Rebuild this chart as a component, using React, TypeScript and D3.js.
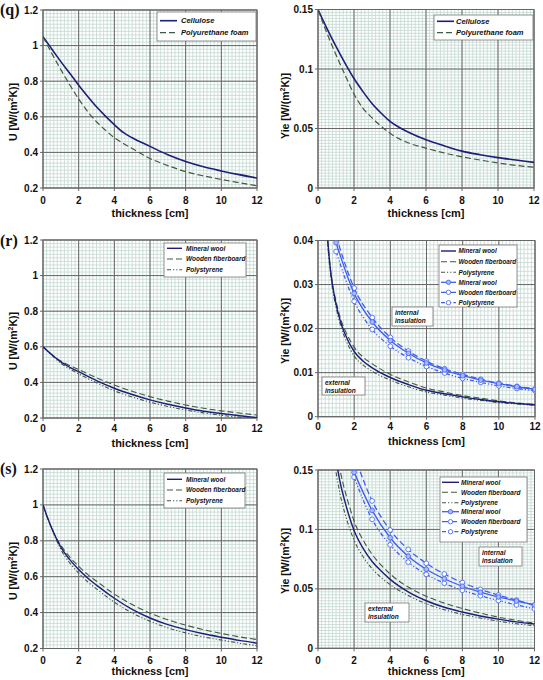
import React from "react";
import * as d3 from "d3";

// ---------- shared ----------
const xTicks = [0, 2, 4, 6, 8, 10, 12];

// ---------- (q) ----------
const qX = [0, 0.5, 1, 1.5, 2, 2.5, 3, 3.5, 4, 4.5, 5, 6, 7, 8, 9, 10, 11, 12];
const qCelluloseU = [1.05, 0.98, 0.91, 0.845, 0.777, 0.715, 0.656, 0.604, 0.556, 0.512, 0.482, 0.434, 0.387, 0.349, 0.319, 0.296, 0.275, 0.256];
const qPolyurethaneU = [1.05, 0.955, 0.865, 0.78, 0.7, 0.63, 0.572, 0.525, 0.483, 0.45, 0.422, 0.366, 0.326, 0.292, 0.268, 0.248, 0.23, 0.212];
const qCelluloseY = [0.15, 0.134, 0.119, 0.105, 0.092, 0.081, 0.071, 0.063, 0.056, 0.051, 0.047, 0.0405, 0.0355, 0.031, 0.028, 0.0255, 0.0235, 0.0215];
const qPolyurethaneY = [0.15, 0.13, 0.112, 0.095, 0.079, 0.067, 0.059, 0.052, 0.046, 0.0415, 0.038, 0.0335, 0.0295, 0.0262, 0.0235, 0.021, 0.019, 0.0175];

// ---------- (r) ----------
const rX = [0, 0.5, 1, 1.5, 2, 3, 4, 5, 6, 7, 8, 9, 10, 11, 12];
const rMineralU = [0.6, 0.555, 0.515, 0.485, 0.46, 0.41, 0.367, 0.332, 0.302, 0.277, 0.256, 0.238, 0.225, 0.213, 0.203];
const rFiberboardU = [0.6, 0.556, 0.52, 0.495, 0.472, 0.426, 0.385, 0.35, 0.32, 0.295, 0.273, 0.255, 0.24, 0.228, 0.217];
const rPolystyreneU = [0.6, 0.552, 0.508, 0.475, 0.448, 0.398, 0.353, 0.318, 0.289, 0.265, 0.245, 0.229, 0.215, 0.204, 0.195];

const rExtX = [0.5, 0.6, 0.7, 0.8, 1, 1.25, 1.5, 2, 2.5, 3, 4, 5, 6, 7, 8, 9, 10, 11, 12];
const rExtMineralY = [0.042, 0.037, 0.033, 0.03, 0.0255, 0.0215, 0.0187, 0.0148, 0.0126, 0.0111, 0.0089, 0.0073, 0.006, 0.0052, 0.0045, 0.0039, 0.0034, 0.003, 0.0027];
const rExtFiberboardY = [0.042, 0.037, 0.033, 0.03, 0.0262, 0.0222, 0.0196, 0.0158, 0.0135, 0.012, 0.0096, 0.0079, 0.0065, 0.0056, 0.0048, 0.0042, 0.0036, 0.0031, 0.0028];
const rExtPolystyreneY = [0.041, 0.036, 0.032, 0.029, 0.0248, 0.0207, 0.0178, 0.0138, 0.0117, 0.0103, 0.0083, 0.0068, 0.0056, 0.0049, 0.0042, 0.0037, 0.0032, 0.0029, 0.0026];
const rIntX = [1, 2, 3, 4, 5, 6, 7, 8, 9, 10, 11, 12];
const rIntMineralY = [0.0395, 0.028, 0.0215, 0.0173, 0.0144, 0.0122, 0.0106, 0.0093, 0.0083, 0.0075, 0.0068, 0.0062];
const rIntFiberboardY = [0.041, 0.0292, 0.0225, 0.018, 0.0149, 0.0126, 0.0109, 0.0096, 0.0085, 0.0076, 0.0069, 0.0063];
const rIntPolystyreneY = [0.0375, 0.0262, 0.0198, 0.016, 0.0134, 0.0114, 0.0099, 0.0087, 0.0078, 0.007, 0.0064, 0.0059];

// ---------- (s) ----------
const sX = [0, 0.25, 0.5, 0.75, 1, 1.5, 2, 2.5, 3, 4, 5, 6, 7, 8, 9, 10, 11, 12];
const sMineralU = [1.0, 0.93, 0.868, 0.812, 0.765, 0.695, 0.64, 0.593, 0.553, 0.48, 0.418, 0.37, 0.333, 0.305, 0.282, 0.263, 0.245, 0.23];
const sFiberboardU = [1.0, 0.928, 0.866, 0.815, 0.775, 0.71, 0.658, 0.613, 0.575, 0.503, 0.445, 0.397, 0.36, 0.33, 0.305, 0.284, 0.265, 0.25];
const sPolystyreneU = [1.0, 0.93, 0.866, 0.805, 0.752, 0.677, 0.62, 0.572, 0.532, 0.458, 0.398, 0.352, 0.315, 0.287, 0.265, 0.247, 0.23, 0.215];

const sExtX = [1, 1.25, 1.5, 1.75, 2, 2.5, 3, 3.5, 4, 5, 6, 7, 8, 9, 10, 11, 12];
const sExtMineralY = [0.158, 0.138, 0.123, 0.11, 0.099, 0.084, 0.073, 0.065, 0.058, 0.0475, 0.04, 0.0345, 0.0305, 0.0272, 0.0245, 0.0222, 0.0205];
const sExtFiberboardY = [0.17, 0.148, 0.132, 0.119, 0.107, 0.091, 0.079, 0.07, 0.0625, 0.0515, 0.0438, 0.038, 0.0335, 0.0296, 0.0262, 0.0235, 0.0212];
const sExtPolystyreneY = [0.148, 0.128, 0.113, 0.101, 0.091, 0.077, 0.067, 0.0595, 0.0535, 0.0445, 0.0375, 0.0325, 0.0285, 0.0255, 0.0228, 0.0206, 0.019];
const sIntX = [2, 3, 4, 5, 6, 7, 8, 9, 10, 11, 12];
const sIntMineralY = [0.148, 0.116, 0.093, 0.0775, 0.0665, 0.0585, 0.0522, 0.0472, 0.0432, 0.0398, 0.0365];
const sIntFiberboardY = [0.163, 0.124, 0.0995, 0.0832, 0.0715, 0.0625, 0.0553, 0.0495, 0.0448, 0.0405, 0.0362];
const sIntPolystyreneY = [0.144, 0.1085, 0.087, 0.0725, 0.0622, 0.0548, 0.0488, 0.0442, 0.0402, 0.0365, 0.0332];

// ---------- styles ----------
const NAVY = "#1c1f78";
const OLIVE = "#3f5a40";
const BLUE = "#3d5ef2";
const MARK_FILL = "#a9b8ff";
const GRID_MINOR = "#c3d8d1";
const GRID_MAJOR = "#666666";
const FONT = "'Liberation Sans', Arial, sans-serif";

type Series = { xs: number[]; ys: number[]; color: string; dash?: string; width: number; marker?: "filled" | "open" };
type LegendItem = { label: string; color: string; dash?: string; width: number; marker?: "filled" | "open" };

interface PanelProps {
  id: string;
  x0: number; x1: number; y0: number; y1: number;
  yDomain: [number, number];
  yMajor: number[];
  yMinorStep: number;
  series: Series[];
  legend: { x: number; y: number; w: number; h: number; rows: number[]; lx0: number; lx1: number; tx: number; fs: number; items: LegendItem[] };
  notes?: { x: number; y: number; w: number; h: number; lines: string[] }[];
  yLabel: string;
  yLabelX: number; yLabelY: number;
  xTickY: number; xLabelY: number;
  tag?: { text: string; x: number; y: number };
}

function Panel(p: PanelProps) {
  const xs = d3.scaleLinear().domain([0, 12]).range([p.x0, p.x1]);
  const ys = d3.scaleLinear().domain(p.yDomain).range([p.y1, p.y0]);
  const xMinor = d3.range(0, 12.0001, 0.2);
  const nMinor = Math.round((p.yDomain[1] - p.yDomain[0]) / p.yMinorStep);
  const yMinor = d3.range(0, nMinor + 1).map((i) => p.yDomain[0] + i * p.yMinorStep);
  const line = d3.line<[number, number]>().x((d) => xs(d[0])).y((d) => ys(d[1])).curve(d3.curveMonotoneX);
  const clipId = "clip-" + p.id;
  const fmt = (v: number) => String(+v.toFixed(3));
  const lg = p.legend;
  return (
    <g>
      <defs>
        <clipPath id={clipId}>
          <rect x={p.x0} y={p.y0} width={p.x1 - p.x0} height={p.y1 - p.y0} />
        </clipPath>
      </defs>
      <rect x={p.x0} y={p.y0} width={p.x1 - p.x0} height={p.y1 - p.y0} fill="#fff" />
      {xMinor.map((v, i) => (
        <line key={"xm" + i} x1={xs(v)} x2={xs(v)} y1={p.y0} y2={p.y1} stroke={GRID_MINOR} strokeWidth={0.8} />
      ))}
      {yMinor.map((v, i) => (
        <line key={"ym" + i} x1={p.x0} x2={p.x1} y1={ys(v)} y2={ys(v)} stroke={GRID_MINOR} strokeWidth={0.8} />
      ))}
      {xTicks.map((v) => (
        <line key={"xM" + v} x1={xs(v)} x2={xs(v)} y1={p.y0} y2={p.y1 + 3} stroke={GRID_MAJOR} strokeWidth={1} />
      ))}
      {p.yMajor.map((v) => (
        <line key={"yM" + v} x1={p.x0 - 3} x2={p.x1} y1={ys(v)} y2={ys(v)} stroke={GRID_MAJOR} strokeWidth={1} />
      ))}
      <rect x={p.x0} y={p.y0} width={p.x1 - p.x0} height={p.y1 - p.y0} fill="none" stroke={GRID_MAJOR} strokeWidth={1} />
      <g clipPath={`url(#${clipId})`}>
        {p.series.map((s, i) => (
          <g key={"s" + i}>
            <path
              d={line(s.xs.map((x, j) => [x, s.ys[j]] as [number, number])) || ""}
              fill="none"
              stroke={s.color}
              strokeWidth={s.width}
              strokeDasharray={s.dash}
            />
            {s.marker &&
              s.xs.map((x, j) => (
                <circle key={j} cx={xs(x)} cy={ys(s.ys[j])} r={2.4} fill={s.marker === "filled" ? MARK_FILL : "#fff"} stroke={s.color} strokeWidth={0.8} />
              ))}
          </g>
        ))}
      </g>
      {xTicks.map((v) => (
        <text key={"xt" + v} x={xs(v)} y={p.xTickY} fontFamily={FONT} fontWeight="bold" fontSize={10} textAnchor="middle" fill="#111">
          {v}
        </text>
      ))}
      {p.yMajor.map((v) => (
        <text key={"yt" + v} x={p.x0 - 5} y={ys(v) + 3.5} fontFamily={FONT} fontWeight="bold" fontSize={10} textAnchor="end" fill="#111">
          {fmt(v)}
        </text>
      ))}
      <text x={(p.x0 + p.x1) / 2} y={p.xLabelY} fontFamily={FONT} fontWeight="bold" fontSize={11} textAnchor="middle" fill="#111">
        thickness [cm]
      </text>
      <text
        transform={`translate(${p.yLabelX},${p.yLabelY}) rotate(-90)`}
        fontFamily={FONT}
        fontWeight="bold"
        fontSize={10.5}
        textAnchor="middle"
        fill="#111"
      >
        {p.yLabel}
        <tspan dy={-4} fontSize={7}>2</tspan>
        <tspan dy={4}>K)]</tspan>
      </text>
      <rect x={lg.x} y={lg.y} width={lg.w} height={lg.h} fill="#fff" stroke="#777" strokeWidth={0.8} />
      {lg.items.map((it, i) => {
        const yy = lg.rows[i];
        return (
          <g key={"lg" + i}>
            <line x1={lg.lx0} x2={lg.lx1} y1={yy} y2={yy} stroke={it.color} strokeWidth={it.width} strokeDasharray={it.dash} />
            {it.marker && (
              <circle cx={(lg.lx0 + lg.lx1) / 2} cy={yy} r={2.2} fill={it.marker === "filled" ? MARK_FILL : "#fff"} stroke={it.color} strokeWidth={0.8} />
            )}
            <text x={lg.tx} y={yy + lg.fs * 0.35} fontFamily={FONT} fontWeight="bold" fontStyle="italic" fontSize={lg.fs} fill="#111">
              {it.label}
            </text>
          </g>
        );
      })}
      {(p.notes || []).map((n, i) => (
        <g key={"n" + i}>
          <rect x={n.x} y={n.y} width={n.w} height={n.h} fill="#fff" stroke="#777" strokeWidth={0.8} />
          {n.lines.map((l, j) => (
            <text key={j} x={n.x + 3} y={n.y + 7.5 + j * 8} fontFamily={FONT} fontWeight="bold" fontStyle="italic" fontSize={6.5} fill="#111">
              {l}
            </text>
          ))}
        </g>
      ))}
      {p.tag && (
        <text x={p.tag.x} y={p.tag.y} fontFamily="'Liberation Serif', 'Times New Roman', serif" fontWeight="bold" fontSize={16} fill="#111">
          {p.tag.text}
        </text>
      )}
    </g>
  );
}

const DASH = "6,3";
const DASHDOT = "4,2,1.2,2,1.2,2";

const threeExt: LegendItem[] = [
  { label: "Mineral wool", color: NAVY, width: 1.4 },
  { label: "Wooden fiberboard", color: OLIVE, width: 1.1, dash: DASH },
  { label: "Polystyrene", color: OLIVE, width: 1.1, dash: DASHDOT },
];
const threeInt: LegendItem[] = [
  { label: "Mineral wool", color: BLUE, width: 1.3, marker: "filled" },
  { label: "Wooden fiberboard", color: BLUE, width: 1.3, dash: DASH, marker: "open" },
  { label: "Polystyrene", color: BLUE, width: 1.3, dash: DASHDOT, marker: "open" },
];

export default function App() {
  return (
    <svg width={543} height={680} style={{ position: "absolute", left: 0, top: 0, background: "#fff" }}>
      <Panel
        id="qa"
        x0={43} x1={257} y0={10} y1={188}
        yDomain={[0.2, 1.2]}
        yMajor={[0.2, 0.4, 0.6, 0.8, 1, 1.2]}
        yMinorStep={0.02}
        series={[
          { xs: qX, ys: qCelluloseU, color: NAVY, width: 1.6 },
          { xs: qX, ys: qPolyurethaneU, color: OLIVE, width: 1.2, dash: DASH },
        ]}
        legend={{ x: 157, y: 12, w: 99, h: 29, rows: [20.7, 32.7], lx0: 160, lx1: 177, tx: 181, fs: 7.5,
          items: [
            { label: "Cellulose", color: NAVY, width: 1.6 },
            { label: "Polyurethane foam", color: OLIVE, width: 1.2, dash: DASH },
          ] }}
        yLabel="U [W/(m"
        yLabelX={17} yLabelY={112}
        xTickY={204} xLabelY={217}
        tag={{ text: "(q)", x: 0, y: 15 }}
      />
      <Panel
        id="qb"
        x0={318} x1={534} y0={9.5} y1={188}
        yDomain={[0, 0.15]}
        yMajor={[0, 0.05, 0.1, 0.15]}
        yMinorStep={0.0025}
        series={[
          { xs: qX, ys: qCelluloseY, color: NAVY, width: 1.6 },
          { xs: qX, ys: qPolyurethaneY, color: OLIVE, width: 1.2, dash: DASH },
        ]}
        legend={{ x: 434, y: 15, w: 99, h: 25, rows: [21.3, 32.7], lx0: 437, lx1: 454, tx: 456, fs: 7.5,
          items: [
            { label: "Cellulose", color: NAVY, width: 1.6 },
            { label: "Polyurethane foam", color: OLIVE, width: 1.2, dash: DASH },
          ] }}
        yLabel="Yie [W/(m"
        yLabelX={289} yLabelY={106}
        xTickY={204} xLabelY={217}
      />
      <Panel
        id="ra"
        x0={43} x1={257} y0={240} y1={418}
        yDomain={[0.2, 1.2]}
        yMajor={[0.2, 0.4, 0.6, 0.8, 1, 1.2]}
        yMinorStep={0.02}
        series={[
          { xs: rX, ys: rFiberboardU, color: OLIVE, width: 1.1, dash: DASH },
          { xs: rX, ys: rPolystyreneU, color: OLIVE, width: 1.1, dash: DASHDOT },
          { xs: rX, ys: rMineralU, color: NAVY, width: 1.4 },
        ]}
        legend={{ x: 164, y: 243, w: 82, h: 34, rows: [248.3, 259, 269.7], lx0: 167, lx1: 182, tx: 186, fs: 6.5, items: threeExt }}
        yLabel="U [W/(m"
        yLabelX={17} yLabelY={341}
        xTickY={432} xLabelY={447}
        tag={{ text: "(r)", x: 0, y: 246 }}
      />
      <Panel
        id="rb"
        x0={318} x1={535} y0={240.5} y1={416.7}
        yDomain={[0, 0.04]}
        yMajor={[0, 0.01, 0.02, 0.03, 0.04]}
        yMinorStep={0.001}
        series={[
          { xs: rExtX, ys: rExtFiberboardY, color: OLIVE, width: 1.1, dash: DASH },
          { xs: rExtX, ys: rExtPolystyreneY, color: OLIVE, width: 1.1, dash: DASHDOT },
          { xs: rExtX, ys: rExtMineralY, color: NAVY, width: 1.4 },
          { xs: rIntX, ys: rIntFiberboardY, color: BLUE, width: 1.3, dash: DASH, marker: "open" },
          { xs: rIntX, ys: rIntPolystyreneY, color: BLUE, width: 1.3, dash: DASHDOT, marker: "open" },
          { xs: rIntX, ys: rIntMineralY, color: BLUE, width: 1.3, marker: "filled" },
        ]}
        legend={{ x: 439, y: 245, w: 78, h: 62, rows: [251, 261.7, 272.3, 282.3, 292.3, 302.7], lx0: 441, lx1: 456, tx: 458.5, fs: 6.3,
          items: [...threeExt, ...threeInt] }}
        notes={[
          { x: 392, y: 307, w: 41, h: 19, lines: ["internal", "insulation"] },
          { x: 322, y: 377, w: 43, h: 18, lines: ["external", "insulation"] },
        ]}
        yLabel="Yie [W/(m"
        yLabelX={289} yLabelY={331}
        xTickY={430} xLabelY={445}
      />
      <Panel
        id="sa"
        x0={43} x1={257} y0={469} y1={648.5}
        yDomain={[0.2, 1.2]}
        yMajor={[0.2, 0.4, 0.6, 0.8, 1, 1.2]}
        yMinorStep={0.02}
        series={[
          { xs: sX, ys: sFiberboardU, color: OLIVE, width: 1.1, dash: DASH },
          { xs: sX, ys: sPolystyreneU, color: OLIVE, width: 1.1, dash: DASHDOT },
          { xs: sX, ys: sMineralU, color: NAVY, width: 1.4 },
        ]}
        legend={{ x: 164, y: 473, w: 81, h: 35, rows: [479.3, 490, 500.7], lx0: 167, lx1: 182, tx: 186, fs: 6.5, items: threeExt }}
        yLabel="U [W/(m"
        yLabelX={17} yLabelY={571}
        xTickY={664} xLabelY={675}
        tag={{ text: "(s)", x: 0, y: 474 }}
      />
      <Panel
        id="sb"
        x0={318} x1={534.5} y0={470} y1={648.3}
        yDomain={[0, 0.15]}
        yMajor={[0, 0.05, 0.1, 0.15]}
        yMinorStep={0.0025}
        series={[
          { xs: sExtX, ys: sExtFiberboardY, color: OLIVE, width: 1.1, dash: DASH },
          { xs: sExtX, ys: sExtPolystyreneY, color: OLIVE, width: 1.1, dash: DASHDOT },
          { xs: sExtX, ys: sExtMineralY, color: NAVY, width: 1.4 },
          { xs: sIntX, ys: sIntFiberboardY, color: BLUE, width: 1.3, dash: DASH, marker: "open" },
          { xs: sIntX, ys: sIntPolystyreneY, color: BLUE, width: 1.3, dash: DASHDOT, marker: "open" },
          { xs: sIntX, ys: sIntMineralY, color: BLUE, width: 1.3, marker: "filled" },
        ]}
        legend={{ x: 440, y: 477, w: 87, h: 65, rows: [482.3, 492.3, 502.7, 511.7, 521.7, 531.7], lx0: 442, lx1: 459, tx: 461, fs: 6.5,
          items: [...threeExt, ...threeInt] }}
        notes={[
          { x: 479, y: 547, w: 43, h: 19, lines: ["internal", "insulation"] },
          { x: 365, y: 603, w: 44, h: 19, lines: ["external", "insulation"] },
        ]}
        yLabel="Yie [W/(m"
        yLabelX={289} yLabelY={561}
        xTickY={664} xLabelY={675}
      />
    </svg>
  );
}
